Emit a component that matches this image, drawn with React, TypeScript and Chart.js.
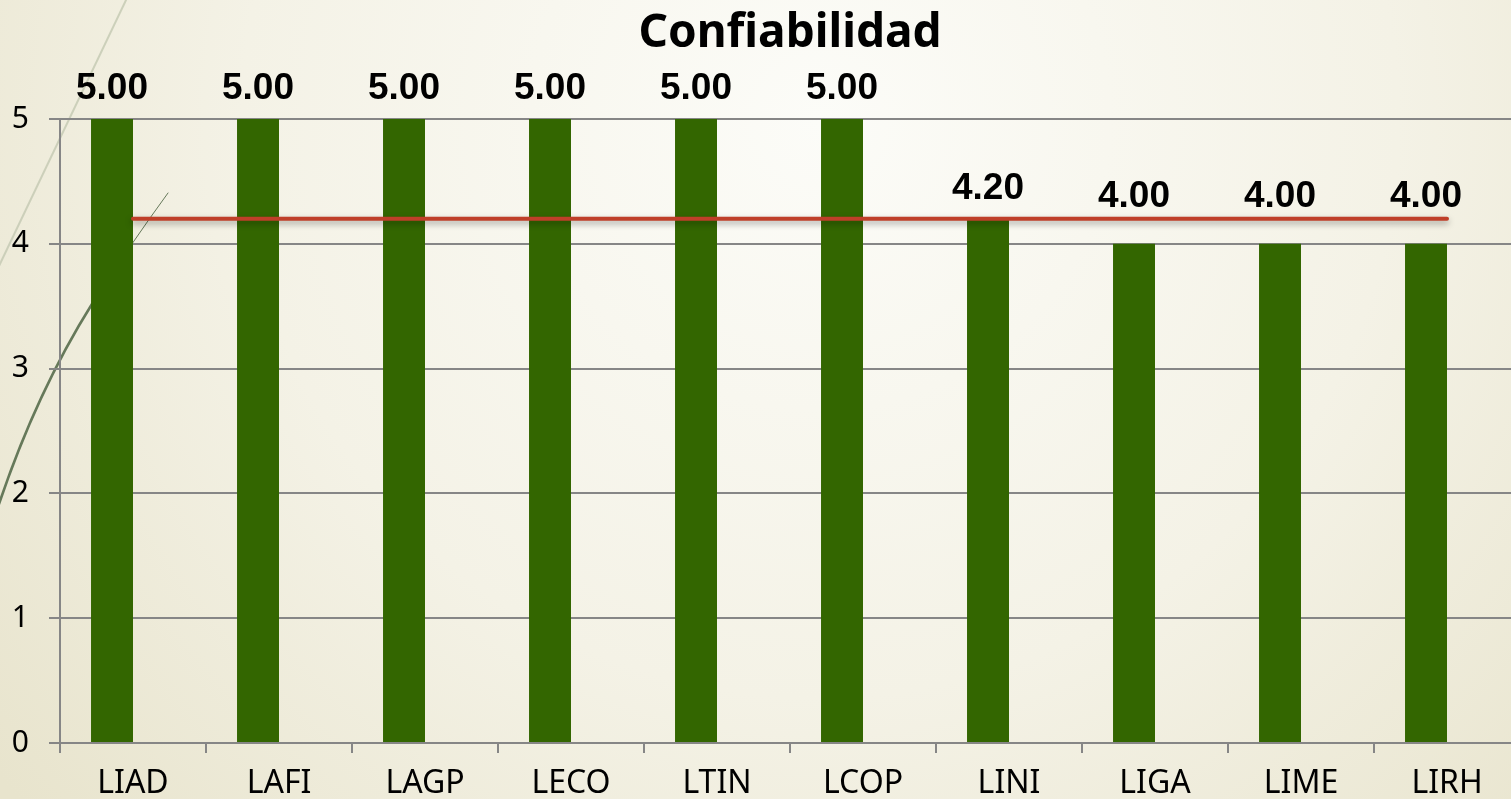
import React, { useEffect, useRef } from "react";
import { Chart, registerables } from "chart.js";

Chart.register(...registerables);

const categories = ["LIAD", "LAFI", "LAGP", "LECO", "LTIN", "LCOP", "LINI", "LIGA", "LIME", "LIRH"];
const values = [5.0, 5.0, 5.0, 5.0, 5.0, 5.0, 4.2, 4.0, 4.0, 4.0];
const emptySeries = [null, null, null, null, null, null, null, null, null, null];
const reference = [4.2, 4.2, 4.2, 4.2, 4.2, 4.2, 4.2, 4.2, 4.2, 4.2];
const titleText = "Confiabilidad";
const yMin = 0;
const yMax = 5;
const yStep = 1;

const backgroundPlugin = {
  id: "slideBackground",
  beforeDraw(chart: any) {
    const { ctx, width, height } = chart;
    ctx.save();
    const g = ctx.createRadialGradient(820, 120, 0, 820, 120, 1050);
    g.addColorStop(0, "#FCFCF8");
    g.addColorStop(0.55, "#F4F2E6");
    g.addColorStop(1, "#E8E4CD");
    ctx.fillStyle = g;
    ctx.fillRect(0, 0, width, height);
    // pale diagonal wisp
    ctx.strokeStyle = "rgba(200,204,182,0.9)";
    ctx.lineWidth = 2;
    ctx.beginPath();
    ctx.moveTo(127, -2);
    ctx.lineTo(-2, 268);
    ctx.stroke();
    // dark green wisp curve
    ctx.strokeStyle = "#66795A";
    ctx.lineCap = "round";
    ctx.lineWidth = 2.6;
    ctx.beginPath();
    ctx.moveTo(-3, 510);
    ctx.quadraticCurveTo(35, 395, 92, 304);
    ctx.stroke();
    ctx.lineWidth = 1;
    ctx.beginPath();
    ctx.moveTo(92, 304);
    ctx.quadraticCurveTo(130, 245, 168, 193);
    ctx.stroke();
    ctx.restore();
  },
};

const shadowPlugin = {
  id: "lineShadow",
  beforeDatasetDraw(chart: any, args: any) {
    if (args.index === 2) {
      const ctx = chart.ctx;
      ctx.save();
      ctx.shadowColor = "rgba(0,0,0,0.35)";
      ctx.shadowBlur = 6;
      ctx.shadowOffsetY = 3;
    }
  },
  afterDatasetDraw(chart: any, args: any) {
    if (args.index === 2) chart.ctx.restore();
  },
};

const labelsPlugin = {
  id: "valueLabels",
  afterDatasetsDraw(chart: any) {
    const { ctx } = chart;
    const yScale = chart.scales.y;
    const meta = chart.getDatasetMeta(0);
    ctx.save();
    ctx.font = "bold 37px 'Liberation Sans', Arial, sans-serif";
    ctx.fillStyle = "#000000";
    ctx.textAlign = "center";
    ctx.textBaseline = "alphabetic";
    meta.data.forEach((bar: any, i: number) => {
      const v = values[i];
      const r = reference[i];
      const base = v >= r ? yScale.getPixelForValue(v) - 20 : yScale.getPixelForValue(r) - 12;
      ctx.fillText(v.toFixed(2), bar.x, base);
    });
    // title, centered over plot area
    const area = chart.chartArea;
    ctx.font = "bold 46px 'Noto Sans', sans-serif";
    ctx.fillText(titleText, (area.left + area.right) / 2, 47);
    ctx.restore();
  },
};

export default function App() {
  const canvasRef = useRef<HTMLCanvasElement | null>(null);

  useEffect(() => {
    document.body.style.margin = "0";
    document.body.style.overflow = "hidden";
    const canvas = canvasRef.current;
    if (!canvas) return;
    const chart = new Chart(canvas, {
      type: "bar",
      data: {
        labels: categories,
        datasets: [
          {
            type: "bar",
            label: "Confiabilidad",
            data: values,
            backgroundColor: "#336600",
            borderWidth: 0,
            categoryPercentage: 0.575,
            barPercentage: 1,
            order: 2,
          },
          {
            type: "bar",
            label: "",
            data: emptySeries as any,
            backgroundColor: "rgba(0,0,0,0)",
            categoryPercentage: 0.575,
            barPercentage: 1,
            order: 3,
          },
          {
            type: "line",
            label: "Referencia",
            data: reference,
            borderColor: "#BF3F29",
            borderWidth: 4,
            borderCapStyle: "round",
            pointRadius: 0,
            fill: false,
            order: 0,
          } as any,
        ],
      },
      options: {
        responsive: true,
        maintainAspectRatio: false,
        animation: false,
        layout: { padding: { top: 119, left: 0, right: 0, bottom: 0 } },
        plugins: {
          legend: { display: false },
          tooltip: { enabled: false },
          title: { display: false },
        },
        scales: {
          x: {
            offset: true,
            grid: {
              display: true,
              offset: true,
              drawOnChartArea: false,
              drawTicks: true,
              tickLength: 10,
              color: "#868686",
              lineWidth: 2,
            },
            border: { display: true, color: "#868686", width: 2 },
            ticks: {
              color: "#000000",
              font: { family: "'Noto Sans', sans-serif", size: 32 },
              padding: 12,
              maxRotation: 0,
              autoSkip: false,
            },
            afterFit: (s: any) => {
              s.height = 56;
            },
          },
          y: {
            min: yMin,
            max: yMax,
            ticks: {
              stepSize: yStep,
              color: "#000000",
              font: { family: "'Noto Sans', sans-serif", size: 30 },
              padding: 20,
            },
            grid: { color: "#868686", lineWidth: 2, tickLength: 11 },
            border: { display: true, color: "#868686", width: 2 },
            afterFit: (s: any) => {
              s.width = 60;
            },
          },
        },
      },
      plugins: [backgroundPlugin, shadowPlugin, labelsPlugin],
    });
    return () => chart.destroy();
  }, []);

  return (
    <div style={{ position: "fixed", left: 0, top: 0, width: "100vw", height: "100vh", overflow: "hidden" }}>
      <div style={{ position: "relative", width: 1520, height: 799 }}>
        <canvas ref={canvasRef} />
      </div>
    </div>
  );
}
